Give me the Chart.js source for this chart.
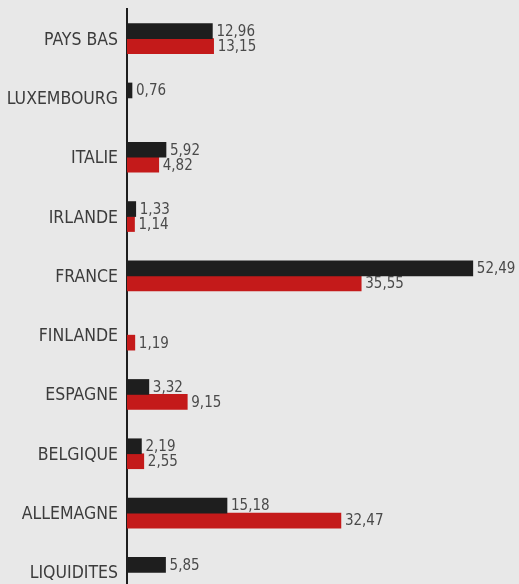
<!DOCTYPE html>
<html>
<head>
<meta charset="utf-8">
<script src="https://cdn.jsdelivr.net/npm/chart.js@4/dist/chart.umd.min.js"></script>
<style>
    html, body { margin: 0; padding: 0; background: #e8e8e8; overflow: hidden; }
    #wrap { width: 519px; height: 602px; position: relative; }
</style>
</head>
<body>
<div id="wrap"><canvas id="chart"></canvas></div>
<script>
const categories = ['PAYS BAS', 'LUXEMBOURG', 'ITALIE', 'IRLANDE', 'FRANCE', 'FINLANDE', 'ESPAGNE', 'BELGIQUE', 'ALLEMAGNE', 'LIQUIDITES'];
const serieNoire = [12.96, 0.76, 5.92, 1.33, 52.49, null, 3.32, 2.19, 15.18, 5.85];
const serieRouge = [13.15, null, 4.82, 1.14, 35.55, 1.19, 9.15, 2.55, 32.47, null];

const FONT = '"DejaVu Sans Condensed", "DejaVu Sans", sans-serif';

// étiquettes de valeur à droite des barres
const valueLabels = {
    id: 'valueLabels',
    afterDatasetsDraw(chart) {
        const ctx = chart.ctx;
        ctx.save();
        ctx.font = '15px ' + FONT;
        ctx.fillStyle = '#4a4a4a';
        ctx.textAlign = 'left';
        ctx.textBaseline = 'middle';
        chart.data.datasets.forEach((ds, di) => {
            const meta = chart.getDatasetMeta(di);
            meta.data.forEach((bar, i) => {
                const v = ds.data[i];
                if (v === null || v === undefined) return;
                ctx.fillText(v.toFixed(2).replace('.', ','), bar.x + 4, bar.y + 1);
            });
        });
        ctx.restore();
    }
};

new Chart(document.getElementById('chart').getContext('2d'), {
    type: 'bar',
    data: {
        labels: categories,
        datasets: [
            { data: serieNoire, backgroundColor: '#1e1e1e', barThickness: 15, borderWidth: 0 },
            { data: serieRouge, backgroundColor: '#c41a1a', barThickness: 15, borderWidth: 0 }
        ]
    },
    options: {
        indexAxis: 'y',
        responsive: true,
        maintainAspectRatio: false,
        animation: false,
        layout: { padding: { top: 9, right: 0, bottom: 0, left: 0 } },
        plugins: {
            legend: { display: false },
            tooltip: { enabled: false }
        },
        scales: {
            x: {
                display: false,
                min: 0,
                max: 59.5
            },
            y: {
                grid: { display: false, drawTicks: false },
                border: { display: true, color: '#1e1e1e', width: 2 },
                ticks: {
                    color: '#3c3c3c',
                    padding: 9,
                    labelOffset: 1.5,
                    font: { family: FONT, size: 17.5 }
                },
                afterFit(scale) {
                    scale.width = 127;
                    scale.paddingTop = 0;
                    scale.paddingBottom = 0;
                }
            }
        }
    },
    plugins: [valueLabels]
});
</script>
</body>
</html>
